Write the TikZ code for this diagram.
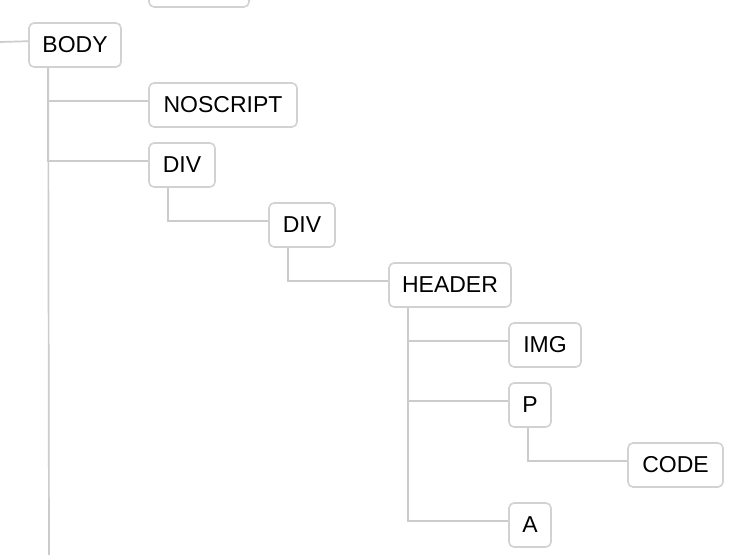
\documentclass[tikz,border=0pt]{standalone}
\usepackage{fontspec}
\setmainfont{Liberation Sans}
\begin{document}
\begin{tikzpicture}[x=1pt,y=-1pt,
  tag/.style={draw=boxgray,line width=1.6pt,rounded corners=5pt,fill=white,
    minimum height=44pt,inner sep=0pt,text=black,
    font=\fontsize{23}{27}\selectfont},
  conn/.style={draw=linegray,line width=1.7pt}]
\definecolor{boxgray}{HTML}{D2D2D2}
\definecolor{linegray}{HTML}{CCCCCC}
\clip (0,0) rectangle (746,554);
\fill[white] (0,0) rectangle (746,554);
% nodes
\node[tag,minimum width=100pt] (top) at (199,-15) {};
\node[tag,minimum width=92pt] (body) at (75,45) {BODY};
\node[tag,minimum width=148pt] (noscript) at (223,105) {NOSCRIPT};
\node[tag,minimum width=66pt] (div1) at (182,165) {DIV};
\node[tag,minimum width=66pt] (div2) at (302,225) {DIV};
\node[tag,minimum width=122pt] (header) at (450,285) {HEADER};
\node[tag,minimum width=72pt] (img) at (545,345) {IMG};
\node[tag,minimum width=42pt] (p) at (530,405) {P};
\node[tag,minimum width=95pt] (code) at (675.5,465) {CODE};
\node[tag,minimum width=42pt] (a) at (530,525) {A};
\coordinate (leftin) at (0,42);
\coordinate (bottom) at (49,560);
% connectors
\draw[conn] (leftin) -- ([yshift=-19pt]body.north west);
\draw[conn] ([xshift=20pt]body.south west) -- (bottom);
\draw[conn] ([yshift=-19pt]noscript.north west) -| ([xshift=20pt]body.south west);
\draw[conn] ([yshift=-19pt]div1.north west) -| ([xshift=20pt]body.south west);
\draw[conn] ([xshift=20pt]div1.south west) |- ([yshift=-19pt]div2.north west);
\draw[conn] ([xshift=20pt]div2.south west) |- ([yshift=-19pt]header.north west);
\draw[conn] ([xshift=20pt]header.south west) |- ([yshift=-19pt]a.north west);
\draw[conn] ([yshift=-19pt]img.north west) -| ([xshift=20pt]header.south west);
\draw[conn] ([yshift=-19pt]p.north west) -| ([xshift=20pt]header.south west);
\draw[conn] ([xshift=20pt]p.south west) |- ([yshift=-19pt]code.north west);
\end{tikzpicture}
\end{document}
